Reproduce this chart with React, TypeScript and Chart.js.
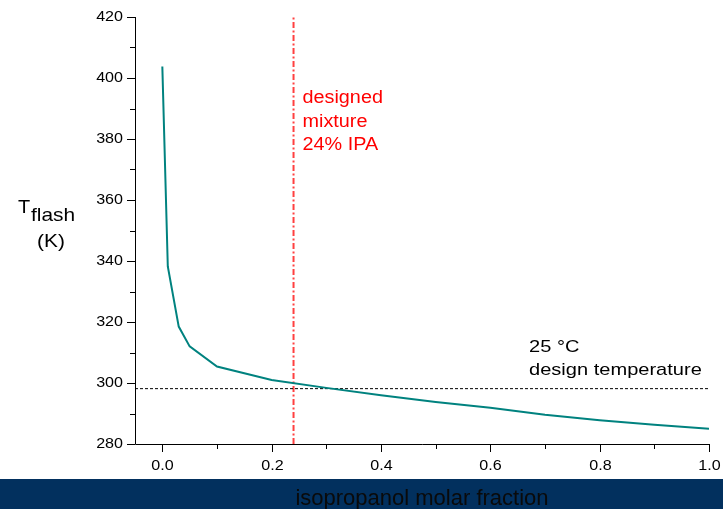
import React, { useEffect, useRef } from "react";
import { Chart, registerables } from "chart.js";

Chart.register(...registerables);

// ---- data ----
const X_FRACTION = [0.0, 0.01, 0.03, 0.05, 0.1, 0.2, 0.3, 0.4, 0.5, 0.6, 0.7, 0.8, 0.9, 1.0];
const T_FLASH = [403.8, 338.2, 318.5, 312.0, 305.4, 301.0, 298.4, 296.0, 293.8, 291.9, 289.6, 287.8, 286.3, 285.0];
const DESIGN_TEMP_K = 298.15;
const DESIGN_FRACTION = 0.24;
const X_RANGE = [-0.05, 1.0];
const Y_RANGE = [280, 420];
const X_TICKS = [0, 0.1, 0.2, 0.3, 0.4, 0.5, 0.6, 0.7, 0.8, 0.9, 1.0];
const X_LABELS = ["0.0", "", "0.2", "", "0.4", "", "0.6", "", "0.8", "", "1.0"];
const Y_TICKS = [280, 290, 300, 310, 320, 330, 340, 350, 360, 370, 380, 390, 400, 410, 420];
const Y_LABELS = ["280", "", "300", "", "320", "", "340", "", "360", "", "380", "", "400", "", "420"];
const RED_TEXT = ["designed", "mixture", "24% IPA"];
const BLACK_TEXT = ["25 \u00B0C", "design temperature"];
const X_TITLE = "isopropanol molar fraction";

const FONT = "'Liberation Sans', Arial, sans-serif";

function sText(ctx: CanvasRenderingContext2D, text: string, x: number, y: number, align: CanvasTextAlign, sx: number) {
  ctx.save();
  ctx.translate(x, y);
  ctx.scale(sx, 1);
  ctx.textAlign = align;
  ctx.fillText(text, 0, 0);
  ctx.restore();
}

const overlay = {
  id: "overlay",
  beforeDraw(chart: any) {
    const ctx = chart.ctx as CanvasRenderingContext2D;
    ctx.save();
    ctx.fillStyle = "#ffffff";
    ctx.fillRect(0, 0, chart.width, chart.height);
    ctx.fillStyle = "#02305e";
    ctx.fillRect(0, 479, chart.width, chart.height - 479);
    ctx.restore();
  },
  afterDraw(chart: any) {
    const ctx = chart.ctx as CanvasRenderingContext2D;
    const x = chart.scales.x;
    const y = chart.scales.y;
    ctx.save();
    ctx.strokeStyle = "#000";
    ctx.lineWidth = 1;
    ctx.beginPath();
    ctx.moveTo(x.left + 0.5, y.top);
    ctx.lineTo(x.left + 0.5, y.bottom + 0.5);
    ctx.lineTo(x.right, y.bottom + 0.5);
    ctx.stroke();

    ctx.fillStyle = "#000";
    ctx.font = `14px ${FONT}`;
    ctx.textBaseline = "middle";
    Y_TICKS.forEach((v, i) => {
      const py = Math.round(y.getPixelForValue(v)) + 0.5;
      const major = Y_LABELS[i] !== "";
      const len = major ? 8 : 5;
      ctx.beginPath();
      ctx.moveTo(x.left - len, py);
      ctx.lineTo(x.left, py);
      ctx.stroke();
      if (major) sText(ctx, Y_LABELS[i], x.left - 12, py, "right", 1.15);
    });
    ctx.textBaseline = "alphabetic";
    X_TICKS.forEach((v, i) => {
      const px = Math.round(x.getPixelForValue(v)) + 0.5;
      const major = X_LABELS[i] !== "";
      const len = major ? 8 : 5;
      ctx.beginPath();
      ctx.moveTo(px, y.bottom);
      ctx.lineTo(px, y.bottom + len);
      ctx.stroke();
      if (major) sText(ctx, X_LABELS[i], px, y.bottom + 26, "center", 1.15);
    });

    // y-axis title
    ctx.font = `19px ${FONT}`;
    sText(ctx, "T", 18, 213, "left", 1.05);
    sText(ctx, "flash", 31, 221, "left", 1.1);
    sText(ctx, "(K)", 51, 247, "center", 1.1);

    // red annotation
    ctx.fillStyle = "#ff0000";
    ctx.font = `18px ${FONT}`;
    const rx = x.getPixelForValue(DESIGN_FRACTION) + 9;
    RED_TEXT.forEach((t, i) => sText(ctx, t, rx, 103 + i * 23.5, "left", 1.1));

    // black annotation
    ctx.fillStyle = "#000";
    ctx.font = `17px ${FONT}`;
    BLACK_TEXT.forEach((t, i) => sText(ctx, t, 529, 352 + i * 23, "left", 1.18));

    // x title in band
    ctx.fillStyle = "#0a0a0a";
    ctx.font = `22px ${FONT}`;
    sText(ctx, X_TITLE, 422, 505, "center", 1.0);
    ctx.restore();
  },
};

export default function App() {
  const ref = useRef<HTMLCanvasElement | null>(null);
  useEffect(() => {
    if (!ref.current) return;
    const chart = new Chart(ref.current, {
      type: "line",
      data: {
        datasets: [
          {
            data: X_FRACTION.map((v, i) => ({ x: v, y: T_FLASH[i] })),
            borderColor: "#00827f",
            borderWidth: 2,
            pointRadius: 0,
            tension: 0,
          },
          {
            data: [
              { x: X_RANGE[0], y: DESIGN_TEMP_K },
              { x: X_RANGE[1], y: DESIGN_TEMP_K },
            ],
            borderColor: "#000",
            borderWidth: 1,
            borderDash: [3, 2],
            pointRadius: 0,
          },
          {
            data: [
              { x: DESIGN_FRACTION, y: Y_RANGE[0] },
              { x: DESIGN_FRACTION, y: Y_RANGE[1] },
            ],
            borderColor: "#ff4040",
            borderWidth: 2,
            borderDash: [6, 2.5, 2, 2.5],
            pointRadius: 0,
          },
        ],
      },
      options: {
        animation: false,
        responsive: false,
        devicePixelRatio: 1,
        layout: { padding: { top: 17, right: 14, left: 0, bottom: 0 } },
        plugins: { legend: { display: false }, tooltip: { enabled: false } },
        scales: {
          x: {
            type: "linear",
            min: X_RANGE[0],
            max: X_RANGE[1],
            grid: { display: false },
            border: { display: false },
            ticks: { display: false },
            afterFit: (s: any) => {
              s.height = 65;
            },
          },
          y: {
            type: "linear",
            min: Y_RANGE[0],
            max: Y_RANGE[1],
            grid: { display: false },
            border: { display: false },
            ticks: { display: false },
            afterFit: (s: any) => {
              s.width = 135;
            },
          },
        },
      },
      plugins: [overlay],
    });
    return () => chart.destroy();
  }, []);
  return (
    <div style={{ position: "absolute", left: 0, top: 0, width: 723, height: 509 }}>
      <canvas ref={ref} width={723} height={509} />
    </div>
  );
}
